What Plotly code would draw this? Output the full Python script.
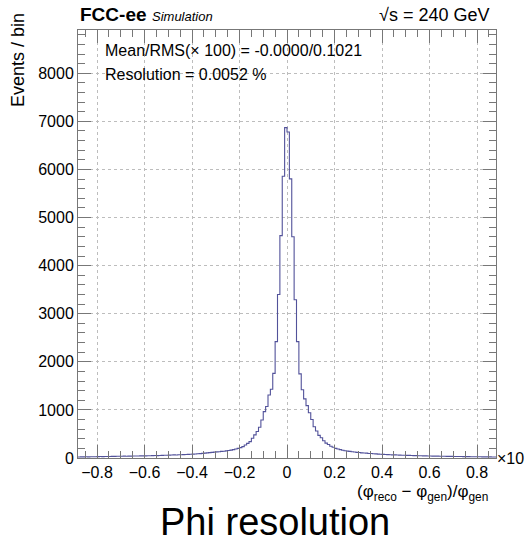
import numpy as np
import plotly.graph_objects as go

# ---------------- data ----------------
bin_low = -0.88
bin_width = 0.01

# counts for bins from -0.88 up to 0.00 (left half), 88 bins
counts_left = [
    22, 24, 23, 25, 24, 26, 27, 27,                      # -0.88 .. -0.80
    28, 30, 29, 31, 32, 31, 33, 34, 35, 35,              # -0.80 .. -0.70
    36, 38, 37, 39, 40, 42, 41, 43, 44, 45,              # -0.70 .. -0.60
    45, 47, 46, 49, 51, 50, 53, 55, 56, 58,              # -0.60 .. -0.50
    60, 62, 64, 63, 67, 69, 71, 73, 76, 78,              # -0.50 .. -0.40
    80, 84, 88, 92, 97, 101, 106, 112, 117, 123,         # -0.40 .. -0.30
    128, 131, 137, 141, 148, 155, 163, 174, 188, 200,    # -0.30 .. -0.20
    215, 236, 270, 305, 340, 410, 480, 550, 640, 790,    # -0.20 .. -0.10
    965, 1070, 1310, 1430, 1760, 2420, 3400, 4625, 5860, 6870,  # -0.10 .. 0.00
]
# counts for bins from 0.00 up to 0.88 (right half), 88 bins
counts_right = [
    6780, 5805, 4600, 3290, 2420, 1750, 1420, 1230, 1090, 940,   # 0.00 .. 0.10
    800, 650, 560, 470, 420, 360, 310, 280, 245, 222,            # 0.10 .. 0.20
    200, 186, 174, 160, 152, 142, 137, 129, 124, 116,            # 0.20 .. 0.30
    113, 107, 104, 101, 95, 93, 88, 86, 81, 79,                  # 0.30 .. 0.40
    76, 72, 71, 69, 65, 64, 61, 60, 58, 56,                      # 0.40 .. 0.50
    55, 54, 51, 50, 49, 47, 46, 44, 44, 42,                      # 0.50 .. 0.60
    41, 40, 38, 38, 37, 36, 35, 34, 33, 33,                      # 0.60 .. 0.70
    32, 31, 30, 30, 29, 28, 28, 27, 26, 26,                      # 0.70 .. 0.80
    25, 25, 24, 24, 23, 23, 22, 22,                              # 0.80 .. 0.88
]
counts = counts_left + counts_right

x_tick_vals = [-0.8, -0.6, -0.4, -0.2, 0, 0.2, 0.4, 0.6, 0.8]
x_tick_text = ["\u22120.8", "\u22120.6", "\u22120.4", "\u22120.2", "0", "0.2", "0.4", "0.6", "0.8"]
y_tick_vals = [0, 1000, 2000, 3000, 4000, 5000, 6000, 7000, 8000]

# ---------------- figure ----------------
edges = np.round(bin_low + bin_width * np.arange(len(counts) + 1), 4)
y_step = counts + [counts[-1]]

FONT = "Liberation Sans, Arial, Helvetica, sans-serif"
AX = "#777777"

fig = go.Figure()
fig.add_trace(go.Scatter(
    x=edges, y=y_step, mode="lines", line_shape="hv",
    line=dict(color="#52529a", width=1.1), hoverinfo="skip", showlegend=False,
))

axis_common = dict(
    showline=True, linecolor=AX, linewidth=1, mirror="allticks",
    ticks="inside", ticklen=13, tickcolor=AX, tickwidth=1,
    showgrid=True, gridcolor="#bdbdbd", griddash="dot", gridwidth=1,
    zeroline=False, tickfont=dict(family=FONT, size=16, color="black"),
)

fig.update_xaxes(
    range=[-0.88, 0.88], tickvals=x_tick_vals, ticktext=x_tick_text,
    minor=dict(dtick=0.05, tick0=0, ticks="inside", ticklen=7, tickcolor=AX, showgrid=False),
    **axis_common,
)
fig.update_yaxes(
    range=[0, 8900], tickvals=y_tick_vals,
    minor=dict(dtick=200, tick0=0, ticks="inside", ticklen=7, tickcolor=AX, showgrid=False),
    **axis_common,
)

def py(ypx):
    return (458 - ypx) / 428

def px(xpx):
    return (xpx - 78) / 418

anns = [
    dict(text="<b>FCC-ee</b>", x=0, y=py(15), xanchor="left", yanchor="middle",
         font=dict(size=19)),
    dict(text="<i>Simulation</i>", x=px(150), y=py(16), xanchor="left", yanchor="middle",
         font=dict(size=13)),
    dict(text="\u221As = 240 GeV", x=px(491), y=py(15), xanchor="right", yanchor="middle",
         font=dict(size=18)),
    dict(text="Mean/RMS(\u00d7 100) = -0.0000/0.1021", x=px(103), y=py(50),
         xanchor="left", yanchor="middle", font=dict(size=16)),
    dict(text="Resolution = 0.0052 %", x=px(103), y=py(74),
         xanchor="left", yanchor="middle", font=dict(size=16)),
    dict(text="(\u03c6<sub>reco</sub> \u2212 \u03c6<sub>gen</sub>)/\u03c6<sub>gen</sub>",
         x=px(490), y=py(493), xanchor="right", yanchor="middle",
         font=dict(size=17)),
    dict(text="Phi resolution", x=px(275), y=py(522),
         xanchor="center", yanchor="middle", font=dict(size=38)),
    dict(text="\u00d710", x=px(495), y=0.0, xanchor="left", yanchor="middle",
         font=dict(size=16)),
    dict(text="Events / bin", x=px(18), y=py(11), textangle=-90,
         xanchor="center", yanchor="top", font=dict(size=18)),
]
for a in anns:
    a.setdefault("xref", "paper")
    a.setdefault("yref", "paper")
    a["showarrow"] = False
    a["font"] = dict(family=FONT, color="black", **a["font"])
    fig.add_annotation(**a)

fig.update_layout(
    width=525, height=540,
    margin=dict(l=78, r=29, t=30, b=82, pad=0),
    paper_bgcolor="white", plot_bgcolor="white",
    font=dict(family=FONT, color="black"),
)

fig.write_html(
    "out.html",
    config={"displayModeBar": False},
    post_script="document.body.style.margin='0';document.body.style.overflow='hidden';",
)
